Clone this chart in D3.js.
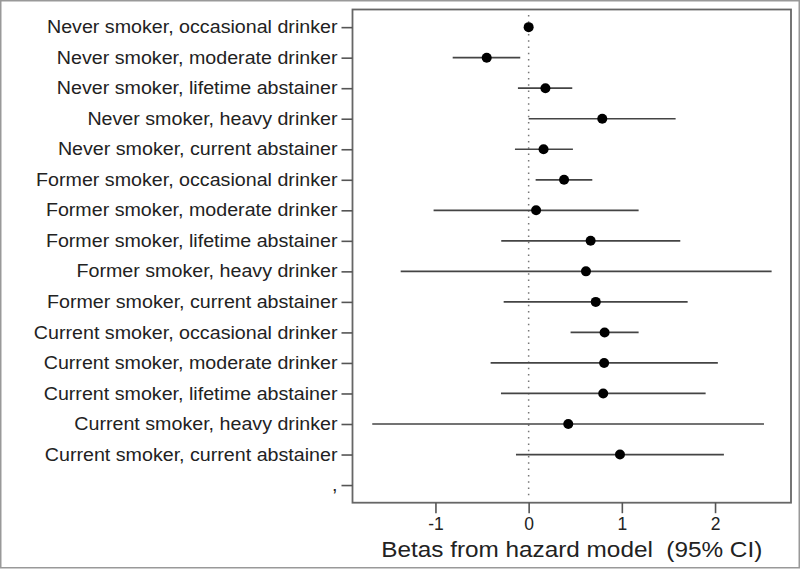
<!DOCTYPE html>
<html>
<head>
<meta charset="utf-8">
<script src="https://cdn.jsdelivr.net/npm/d3@7"></script>
<style>
  body { margin: 0; background: #fff; }
  text { font-family: "Liberation Sans", Arial, sans-serif; fill: #222; }
</style>
</head>
<body>
<div id="chart"></div>
<script>
// rows from top to bottom; the last row is an empty "," category
var labels = [
  'Never smoker, occasional drinker',
  'Never smoker, moderate drinker',
  'Never smoker, lifetime abstainer',
  'Never smoker, heavy drinker',
  'Never smoker, current abstainer',
  'Former smoker, occasional drinker',
  'Former smoker, moderate drinker',
  'Former smoker, lifetime abstainer',
  'Former smoker, heavy drinker',
  'Former smoker, current abstainer',
  'Current smoker, occasional drinker',
  'Current smoker, moderate drinker',
  'Current smoker, lifetime abstainer',
  'Current smoker, heavy drinker',
  'Current smoker, current abstainer',
  ','
];
var betas = [0, -0.45, 0.18, 0.79, 0.16, 0.38, 0.08, 0.665, 0.615, 0.72, 0.815, 0.81, 0.80, 0.425, 0.98, null];
var lower = [0, -0.815, -0.115, 0.0, -0.147, 0.075, -1.02, -0.294, -1.373, -0.268, 0.45, -0.408, -0.297, -1.678, -0.136, null];
var upper = [0, -0.09, 0.468, 1.577, 0.475, 0.683, 1.18, 1.627, 2.607, 1.706, 1.18, 2.03, 1.899, 2.525, 2.095, null];
var xTicks = [-1, 0, 1, 2];
var xTitle = 'Betas from hazard model  (95% CI)';

var W = 800, H = 570;
var pLeft = 352.5, pRight = 791, pTop = 9.5, pBottom = 502.7;

var rows = labels.map(function(l, i) {
  return {label: l, b: betas[i], lo: lower[i], hi: upper[i]};
});

// the original text is a bit wider than Liberation Sans, stretch it a little
function widen(sel, k) {
  sel.each(function() {
    var w = this.getComputedTextLength();
    if (w > 0) {
      d3.select(this).attr('textLength', w * k).attr('lengthAdjust', 'spacingAndGlyphs');
    }
  });
}

var svg = d3.select('#chart').append('svg')
  .attr('width', W).attr('height', H);

// outer frame of the picture
svg.append('rect')
  .attr('x', 0.75).attr('y', 0.75).attr('width', W - 1.5).attr('height', H - 3)
  .attr('fill', 'none').attr('stroke', '#999').attr('stroke-width', 1.5);

var x = d3.scaleLinear().domain([-1.89, 2.815]).range([pLeft, pRight]);
var y = d3.scalePoint().domain(labels).range([pTop, pBottom]).padding(0.578);

// zero reference line
svg.append('line')
  .attr('x1', x(0)).attr('x2', x(0))
  .attr('y1', 15).attr('y2', 497)
  .attr('stroke', '#777').attr('stroke-width', 1.5)
  .attr('stroke-dasharray', '1.5,4.8');

var pts = rows.filter(function(d) { return d.b !== null; });

svg.append('g').selectAll('line')
  .data(pts).enter().append('line')
  .attr('x1', function(d) { return x(d.lo); })
  .attr('x2', function(d) { return x(d.hi); })
  .attr('y1', function(d) { return y(d.label); })
  .attr('y2', function(d) { return y(d.label); })
  .attr('stroke', '#444').attr('stroke-width', 1.7);

svg.append('g').selectAll('circle')
  .data(pts).enter().append('circle')
  .attr('cx', function(d) { return x(d.b); })
  .attr('cy', function(d) { return y(d.label); })
  .attr('r', 5)
  .attr('fill', '#000');

// plot box
svg.append('rect')
  .attr('x', pLeft).attr('y', pTop)
  .attr('width', pRight - pLeft).attr('height', pBottom - pTop)
  .attr('fill', 'none').attr('stroke', '#666').attr('stroke-width', 1.8);

var yAxis = svg.append('g')
  .attr('transform', 'translate(' + pLeft + ',0)')
  .call(d3.axisLeft(y).tickSize(11).tickPadding(4));
yAxis.select('.domain').remove();
yAxis.selectAll('line').attr('stroke', '#555').attr('stroke-width', 1.6);
yAxis.selectAll('text')
  .attr('font-size', '17.5px')
  .attr('font-family', '"Liberation Sans", Arial, sans-serif')
  .attr('fill', '#222')
  .call(widen, 1.123);

var xAxis = svg.append('g')
  .attr('transform', 'translate(0,' + pBottom + ')')
  .call(d3.axisBottom(x).tickValues(xTicks).tickSize(10.5).tickPadding(4)
    .tickFormat(function(d) { return String(d); }));
xAxis.select('.domain').remove();
xAxis.selectAll('line').attr('stroke', '#555').attr('stroke-width', 1.6);
xAxis.selectAll('text')
  .attr('font-size', '17.5px')
  .attr('font-family', '"Liberation Sans", Arial, sans-serif')
  .attr('fill', '#222');

svg.append('text')
  .attr('x', (pLeft + pRight) / 2)
  .attr('y', 557)
  .attr('text-anchor', 'middle')
  .attr('font-size', '22px')
  .style('white-space', 'pre')
  .text(xTitle)
  .call(widen, 1.105);
</script>
</body>
</html>
